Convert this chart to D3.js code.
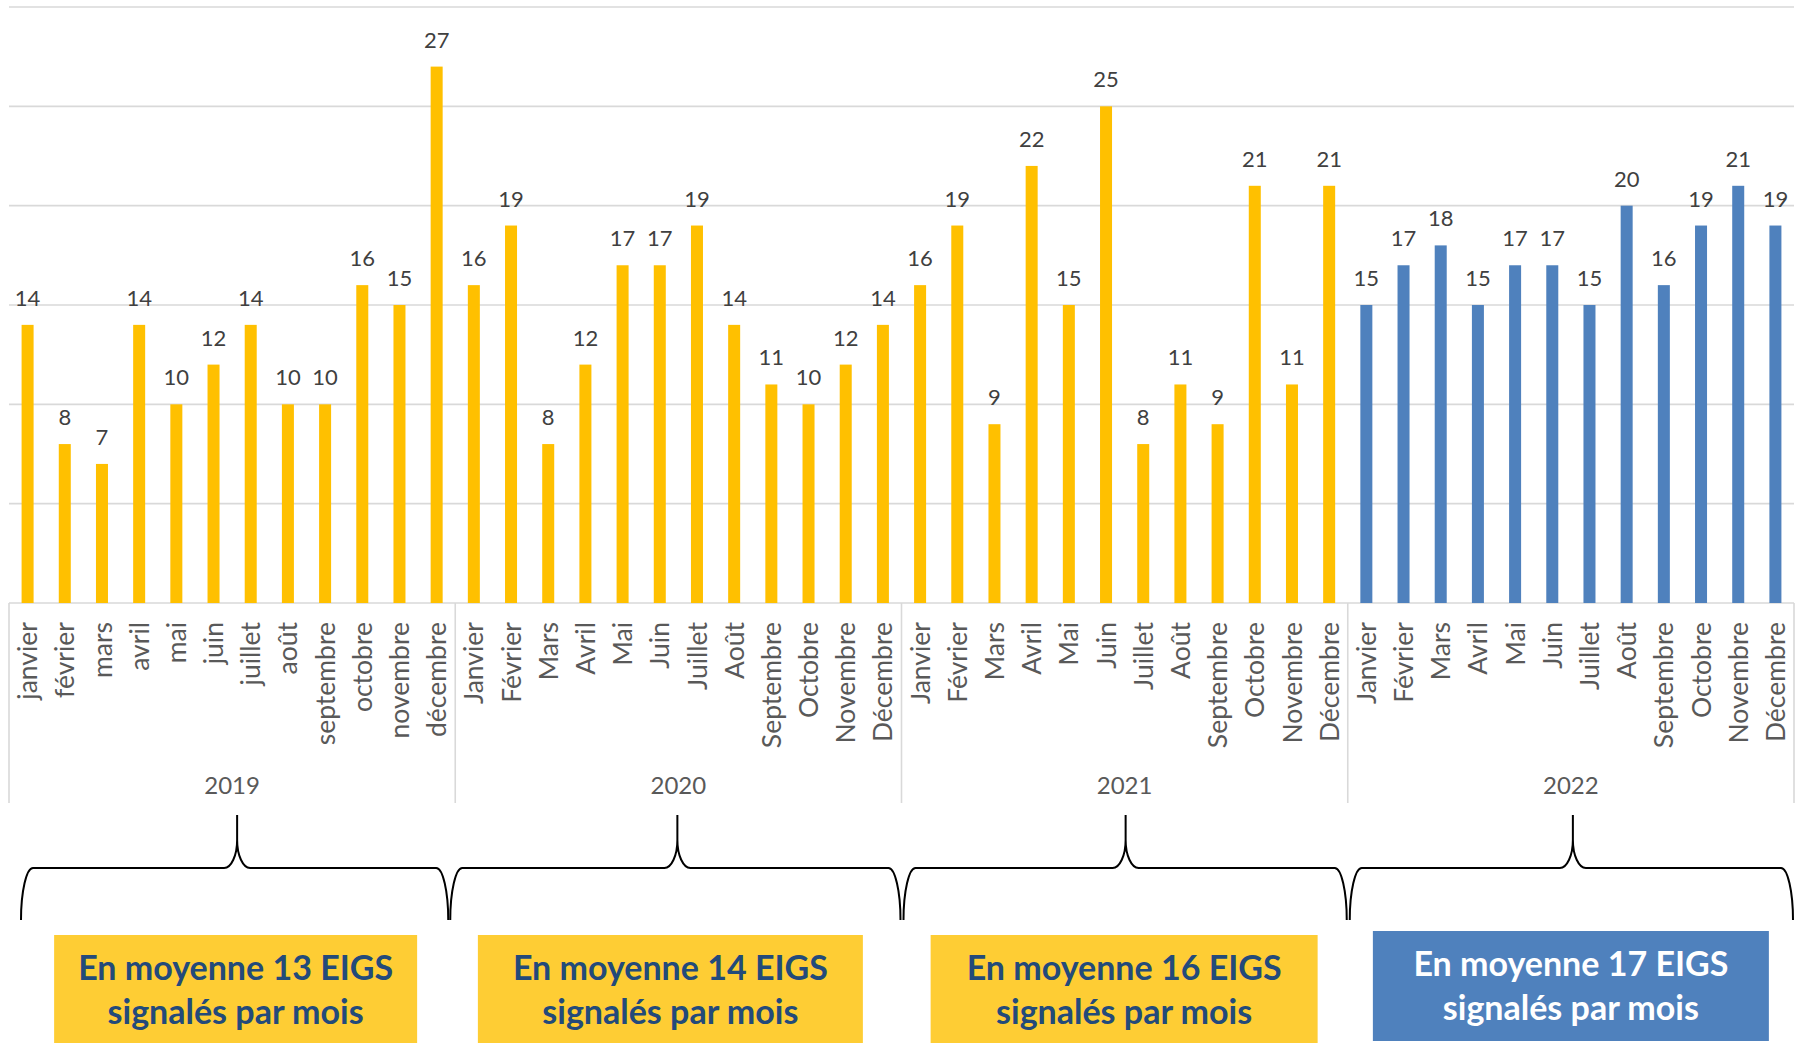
<!DOCTYPE html>
<html>
<head>
<meta charset="utf-8">
<script src="https://cdn.jsdelivr.net/npm/d3@7"></script>
<style>
  html, body { margin: 0; padding: 0; background: #fff; }
  svg { display: block; }
  text { font-family: Lato, "Noto Sans", sans-serif; }
</style>
</head>
<body>
<svg id="chart" width="1803" height="1043"></svg>
<script>
// ---- Data ----
const years = ["2019", "2020", "2021", "2022"];
const months2019 = ["janvier", "février", "mars", "avril", "mai", "juin", "juillet", "août", "septembre", "octobre", "novembre", "décembre"];
const monthsCap = ["Janvier", "Février", "Mars", "Avril", "Mai", "Juin", "Juillet", "Août", "Septembre", "Octobre", "Novembre", "Décembre"];
const values2019 = [14, 8, 7, 14, 10, 12, 14, 10, 10, 16, 15, 27];
const values2020 = [16, 19, 8, 12, 17, 17, 19, 14, 11, 10, 12, 14];
const values2021 = [16, 19, 9, 22, 15, 25, 8, 11, 9, 21, 11, 21];
const values2022 = [15, 17, 18, 15, 17, 17, 15, 20, 16, 19, 21, 19];
const averages = [13, 14, 16, 17];
const yTicks = [0, 5, 10, 15, 20, 25, 30];

(function () {
const yearMonths = [months2019, monthsCap, monthsCap, monthsCap];
const yearValues = [values2019, values2020, values2021, values2022];

const rows = [];
years.forEach((yr, i) => {
  yearMonths[i].forEach((m, j) => {
    rows.push({ key: yr + "-" + j, year: yr, yi: i, month: m, value: yearValues[i][j] });
  });
});

// ---- Layout ----
const GOLD = "#FFC000", BLUE = "#4F81BD";
const BOX_GOLD = "#FECD34", BOX_TEXT = "#234A7A";
const GRID = "#D9D9D9";
const pLeft = 9, pRight = 1794, pTop = 7, pBase = 603;

const svg = d3.select("#chart");

const x = d3.scaleBand()
  .domain(rows.map(d => d.key))
  .range([pLeft, pRight])
  .paddingInner(0.677)
  .paddingOuter(0.3385);

const xYear = d3.scaleBand().domain(years).range([pLeft, pRight]).padding(0);

const y = d3.scaleLinear().domain([0, 30]).range([pBase, pTop]);

// gridlines
svg.append("g")
  .selectAll("line")
  .data(yTicks)
  .join("line")
  .attr("x1", pLeft).attr("x2", pRight)
  .attr("y1", d => y(d)).attr("y2", d => y(d))
  .attr("stroke", GRID).attr("stroke-width", 1.6);

// year dividers
const edges = years.map(yr => xYear(yr)).concat([pRight]);
svg.append("g")
  .selectAll("line")
  .data(edges)
  .join("line")
  .attr("x1", d => d).attr("x2", d => d)
  .attr("y1", pBase).attr("y2", 803)
  .attr("stroke", GRID).attr("stroke-width", 1.6);

// bars
svg.append("g")
  .selectAll("rect")
  .data(rows)
  .join("rect")
  .attr("x", d => x(d.key))
  .attr("width", x.bandwidth())
  .attr("y", d => y(d.value))
  .attr("height", d => y(0) - y(d.value))
  .attr("fill", d => d.year === "2022" ? BLUE : GOLD);

// data labels
svg.append("g")
  .selectAll("text")
  .data(rows)
  .join("text")
  .attr("x", d => x(d.key) + x.bandwidth() / 2)
  .attr("y", d => y(d.value) - 19)
  .attr("text-anchor", "middle")
  .attr("font-size", 22)
  .attr("fill", "#404040")
  .text(d => d.value);

// month labels (rotated)
svg.append("g")
  .selectAll("text")
  .data(rows)
  .join("text")
  .attr("transform", d => `translate(${x(d.key) + x.bandwidth() / 2},622) rotate(-90)`)
  .attr("text-anchor", "end")
  .attr("dy", "0.36em")
  .attr("font-size", 26.5)
  .attr("fill", "#595959")
  .text(d => d.month);

// year labels
svg.append("g")
  .selectAll("text")
  .data(years)
  .join("text")
  .attr("x", d => xYear(d) + xYear.bandwidth() / 2)
  .attr("y", 794)
  .attr("text-anchor", "middle")
  .attr("font-size", 24)
  .attr("fill", "#595959")
  .text(d => d);

// braces
const yTip = 815, yH = 868, yB = 920;
function brace(x0, x1, xt) {
  const rx = 12, ry = yB - yH, tx = 13, ty = 28;
  return `M${x0},${yB} C${x0},${yB - 0.55 * ry} ${x0 + rx * 0.45},${yH} ${x0 + rx},${yH}` +
    ` L${xt - tx},${yH} C${xt - tx * 0.45},${yH} ${xt},${yH - ty * 0.45} ${xt},${yH - ty} L${xt},${yTip}` +
    ` M${xt},${yH - ty} C${xt},${yH - ty * 0.45} ${xt + tx * 0.45},${yH} ${xt + tx},${yH}` +
    ` L${x1 - rx},${yH} C${x1 - rx * 0.45},${yH} ${x1},${yB - 0.55 * ry} ${x1},${yB}`;
}
const braceL = [12, -5, 2, 2];
const braceR = [-7, -1, -1, -1];
const tipOff = [5, -1, 1, 2];
svg.append("g")
  .selectAll("path")
  .data(years)
  .join("path")
  .attr("d", (d, i) => {
    const x0 = xYear(d) + braceL[i];
    const x1 = xYear(d) + xYear.bandwidth() + braceR[i];
    const xt = xYear(d) + xYear.bandwidth() / 2 + tipOff[i];
    return brace(x0, x1, xt);
  })
  .attr("fill", "none")
  .attr("stroke", "#000")
  .attr("stroke-width", 2);

// average boxes
const boxW = [363, 385, 387, 396];
const boxOff = [3.5, -8, -0.5, 0];
const boxG = svg.append("g")
  .selectAll("g")
  .data(years)
  .join("g")
  .attr("transform", (d, i) => {
    const cx = xYear(d) + xYear.bandwidth() / 2 + boxOff[i];
    const t = i === 3 ? 931 : 935;
    return `translate(${cx},${t})`;
  });

boxG.append("rect")
  .attr("x", (d, i) => -boxW[i] / 2)
  .attr("width", (d, i) => boxW[i])
  .attr("y", 0)
  .attr("height", (d, i) => i === 3 ? 110 : 115)
  .attr("fill", (d, i) => i === 3 ? BLUE : BOX_GOLD);

boxG.append("text")
  .attr("text-anchor", "middle")
  .attr("y", 45)
  .attr("font-size", 34)
  .attr("font-weight", 700)
  .attr("fill", (d, i) => i === 3 ? "#fff" : BOX_TEXT)
  .text((d, i) => `En moyenne ${averages[i]} EIGS`);

boxG.append("text")
  .attr("text-anchor", "middle")
  .attr("y", 89)
  .attr("font-size", 34)
  .attr("font-weight", 700)
  .attr("fill", (d, i) => i === 3 ? "#fff" : BOX_TEXT)
  .text("signalés par mois");
})();
</script>
</body>
</html>
